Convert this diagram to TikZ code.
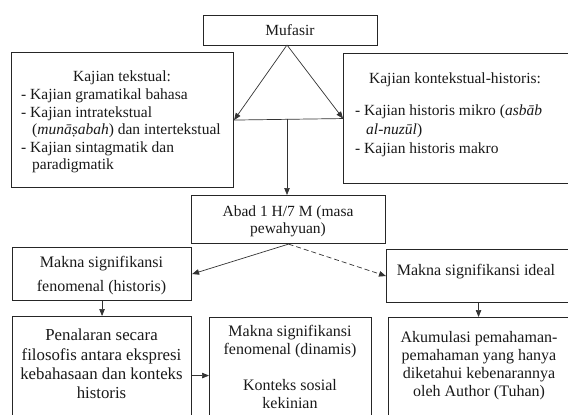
\documentclass[tikz,border=0pt]{standalone}
\usepackage{fontspec}
\setmainfont{Liberation Serif}
\usetikzlibrary{arrows.meta}
\begin{document}
\begin{tikzpicture}[x=1pt,y=-1pt,
  box/.style={draw=black!85, line width=1.1pt, inner sep=0pt, anchor=north west},
  txt/.style={inner sep=0pt, align=center, text=black!90, font=\fontsize{15.5}{17.6}\selectfont},
  lst/.style={inner sep=0pt, align=left, anchor=north west, text=black!90, font=\fontsize{15.5}{17.6}\selectfont},
  arr/.style={draw=black!80, line width=0.7pt, -{Triangle[length=7pt,width=5.5pt]}},
  ln/.style={draw=black!80, line width=0.7pt},
]
\useasboundingbox (0,0) rectangle (568,415);
% boxes
\node[box, minimum width=174pt, minimum height=30pt] (muf) at (203,15) {};
\node[box, minimum width=222pt, minimum height=135pt] (tek) at (11,52) {};
\node[box, minimum width=227pt, minimum height=130pt] (kon) at (343,53) {};
\node[box, minimum width=194pt, minimum height=48pt] (abad) at (191,195) {};
\node[box, minimum width=179pt, minimum height=53pt] (hist) at (12,247) {};
\node[box, minimum width=184pt, minimum height=53pt] (ideal) at (386,249) {};
\node[box, minimum width=179pt, minimum height=118pt] (pen) at (12,316) {};
\node[box, minimum width=162pt, minimum height=116pt] (din) at (209,317) {};
\node[box, minimum width=182pt, minimum height=116pt] (aku) at (388,317) {};
% texts
\node[txt] (tmuf) at (290,30.5) {Mufasir};
\node[txt] (ttek) at (122,78) {Kajian tekstual:};
\node[lst] (ltek) at (21,88.5) {- Kajian gramatikal bahasa\\
- Kajian intratekstual\\
\hspace*{11pt}(\textit{munāṣabah}) dan intertekstual\\
- Kajian sintagmatik dan\\
\hspace*{11pt}paradigmatik};
\node[txt] (tkon) at (455,80) {Kajian kontekstual-historis:};
\node[lst, font=\fontsize{15.5}{18.7}\selectfont] (lkon) at (355,105) {- Kajian historis mikro (\textit{asbāb}\\
\hspace*{11pt}\textit{al-nuzūl})\\
- Kajian historis makro};
\node[txt, font=\fontsize{15.5}{16.5}\selectfont] (tabad) at (288,221.5) {Abad 1 H/7 M (masa\\pewahyuan)};
\node[txt, font=\fontsize{16}{24}\selectfont] (thist) at (101.5,276) {Makna signifikansi\\fenomenal (historis)};
\node[txt, font=\fontsize{16}{18}\selectfont] (tideal) at (476,272) {Makna signifikansi ideal};
\node[txt, font=\fontsize{16.8}{19.2}\selectfont] (tpen) at (101.5,364) {Penalaran secara\\filosofis antara ekspresi\\kebahasaan dan konteks\\historis};
\node[txt, font=\fontsize{16}{18.5}\selectfont] (tdin) at (290,367) {Makna signifikansi\\fenomenal (dinamis)\\[17pt]Konteks sosial\\kekinian};
\node[txt, font=\fontsize{16}{18}\selectfont] (taku) at (479,366) {Akumulasi pemahaman-\\pemahaman yang hanya\\diketahui kebenarannya\\oleh Author (Tuhan)};
% connectors
\coordinate (apex) at (287,45);
\coordinate (mid) at (287,118.5);
\draw[arr] (apex) -- (tek.east);
\draw[arr] (apex) -- (kon.west);
\draw[ln] (tek.east) -- (kon.west);
\draw[arr] (mid) -- (mid |- abad.north);
\draw[arr] (abad.south) -- (hist.east);
\draw[arr, dash pattern=on 5pt off 3pt] (abad.south) -- (ideal.west);
\draw[arr] (hist.south) -- (pen.north);
\draw[arr] (pen.east) -- (din.west);
\draw[arr] (ideal.south) -- (ideal.south |- aku.north);
\end{tikzpicture}
\end{document}
